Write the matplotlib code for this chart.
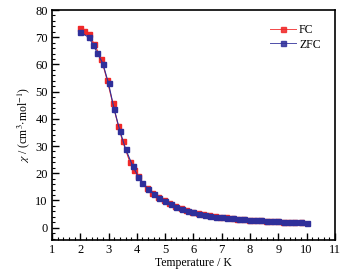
import matplotlib
matplotlib.use("Agg")
import matplotlib.pyplot as plt
from matplotlib.ticker import MultipleLocator

plt.rcParams['font.family'] = ['Liberation Serif', 'DejaVu Serif']
plt.rcParams['mathtext.fontset'] = 'stix'

T_fc = [2.0, 2.15, 2.3, 2.5, 2.75, 2.95, 3.15, 3.35, 3.5, 3.75, 3.9, 4.05, 4.35, 4.55,
        4.75, 4.95, 5.15, 5.35, 5.55, 5.75, 5.95, 6.15, 6.35, 6.55, 6.75, 6.95, 7.15,
        7.35, 7.55, 7.75, 7.95, 8.15, 8.35, 8.55, 8.75, 8.95, 9.15, 9.35, 9.55, 9.8]
chi_fc = [73.3, 72.4, 71.0, 67.4, 61.9, 54.3, 45.7, 37.2, 31.7, 24.3, 21.3, 19.1, 14.4, 12.7,
          11.3, 10.0, 8.9, 7.9, 7.1, 6.4, 5.9, 5.3, 4.9, 4.5, 4.2, 4.0, 3.75,
          3.55, 3.35, 3.15, 2.95, 2.8, 2.7, 2.55, 2.45, 2.35, 2.25, 2.15, 2.1, 2.0]

T_zfc = [2.0, 2.3, 2.45, 2.6, 2.8, 3.0, 3.2, 3.4, 3.6, 3.85, 4.05, 4.2, 4.4, 4.6, 4.8,
         5.0, 5.2, 5.4, 5.6, 5.8, 6.0, 6.2, 6.4, 6.6, 6.8, 7.0, 7.2, 7.4, 7.6, 7.8,
         8.0, 8.2, 8.4, 8.6, 8.8, 9.0, 9.2, 9.4, 9.6, 9.8, 10.0]
chi_zfc = [71.8, 70.0, 67.3, 64.3, 60.3, 53.0, 43.5, 35.7, 29.0, 22.8, 18.8, 16.6, 14.2, 12.5, 11.0,
           9.7, 8.7, 7.7, 6.9, 6.3, 5.8, 5.2, 4.8, 4.4, 4.1, 3.9, 3.7, 3.5, 3.3, 3.1,
           2.9, 2.8, 2.7, 2.5, 2.4, 2.3, 2.2, 2.1, 2.05, 2.0, 1.9]

x_ticks = list(range(1, 12))
y_ticks = [0, 10, 20, 30, 40, 50, 60, 70, 80]

fig = plt.figure(figsize=(3.51, 2.78), dpi=100)
ax = fig.add_axes([0.148, 0.137, 0.806, 0.827])

ax.plot(T_fc, chi_fc, '-s', color='#f02828', lw=0.8, ms=3.6, mec='#f02828', label='FC')
ax.plot(T_zfc, chi_zfc, '-s', color='#2f2f9a', lw=0.8, ms=3.6, mec='#2f2f9a', label='ZFC')

ax.set_xlim(1, 11)
ax.set_ylim(-4.5, 80)
ax.set_xticks(x_ticks)
ax.set_yticks(y_ticks)
ax.xaxis.set_minor_locator(MultipleLocator(0.2))
ax.yaxis.set_minor_locator(MultipleLocator(2))
ax.tick_params(which='major', direction='in', length=5, width=1, labelsize=9, pad=3)
ax.tick_params(which='minor', direction='in', length=2.5, width=0.8)
for s in ax.spines.values():
    s.set_linewidth(1.2)

ax.set_xlabel('Temperature / K', fontsize=8.5, labelpad=1)
ax.set_ylabel(r'$\chi$ / (cm$^{3}$$\cdot$mol$^{-1}$)', fontsize=8.5, labelpad=2)

leg = ax.legend(loc='upper right', frameon=False, fontsize=8.5, handlelength=2.2,
                handletextpad=0.3, labelspacing=0.2, borderaxespad=0.8)
for l in leg.get_lines():
    l.set_linewidth(0.7)
    l.set_alpha(0.85)

fig.savefig('out.png', dpi=100, facecolor='white')
